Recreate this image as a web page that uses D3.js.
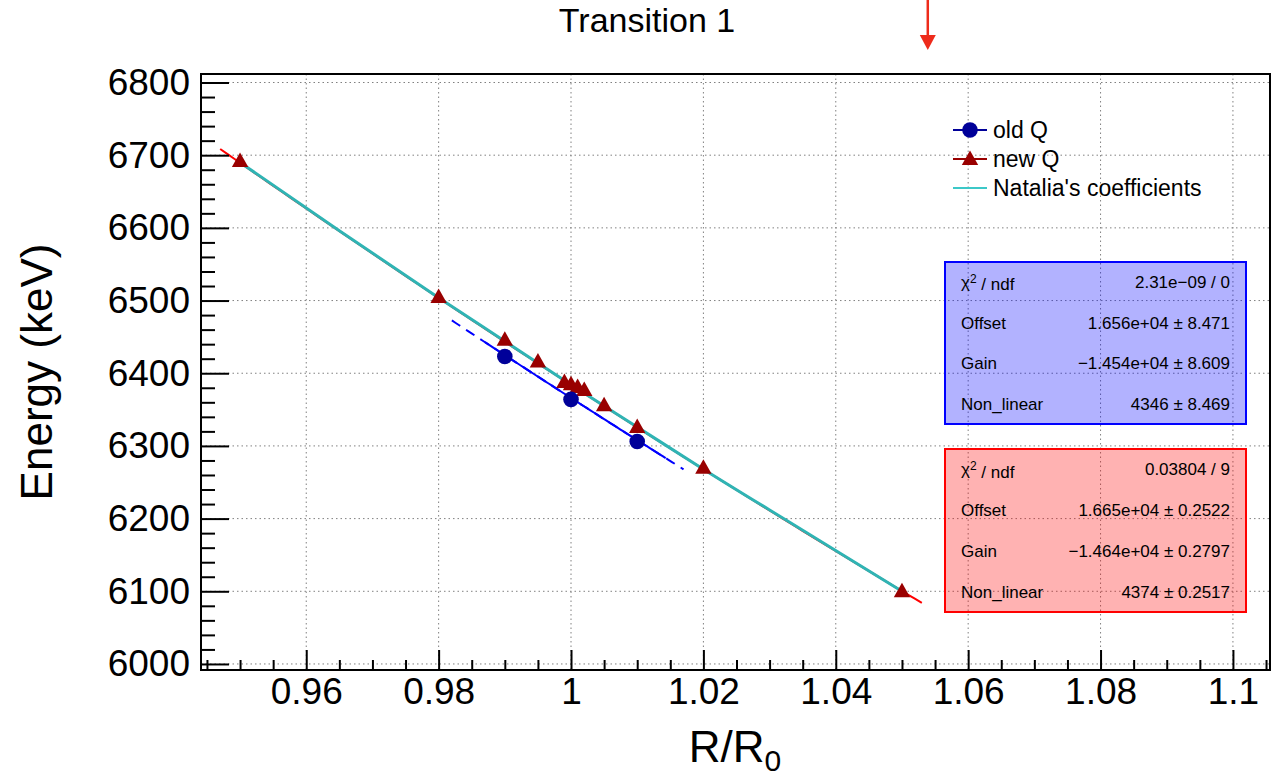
<!DOCTYPE html>
<html>
<head>
<meta charset="utf-8">
<script src="https://cdn.jsdelivr.net/npm/d3@7"></script>
<style>
  html, body { margin: 0; padding: 0; background: #fff; }
  svg { display: block; font-family: "Liberation Sans", Arial, Helvetica, sans-serif; }
</style>
</head>
<body>
<svg id="chart" width="1272" height="778"></svg>
<script>
// ---------- data ----------
const title = "Transition 1";
const xTickValues = [0.96, 0.98, 1.00, 1.02, 1.04, 1.06, 1.08, 1.10];
const xTickLabels = ["0.96", "0.98", "1", "1.02", "1.04", "1.06", "1.08", "1.1"];
const yTickValues = [6000, 6100, 6200, 6300, 6400, 6500, 6600, 6700, 6800];
const yTickLabels = ["6000", "6100", "6200", "6300", "6400", "6500", "6600", "6700", "6800"];

// old Q (circles)
const oldX = [0.99, 1.00, 1.01];
const oldE = [6423, 6364, 6306];
// new Q (triangles)
const newX = [0.95, 0.98, 0.99, 0.995, 0.999, 1.000, 1.001, 1.002, 1.005, 1.01, 1.02, 1.05];
const newE = [6692, 6505, 6446, 6416, 6388, 6385, 6381, 6377, 6356, 6326, 6270, 6100];
// Natalia's coefficients curve
const natX = [0.95, 0.965, 0.98, 0.99, 1.00, 1.01, 1.02, 1.035, 1.05];
const natE = [6690, 6596, 6504, 6444, 6384, 6326, 6268, 6184, 6100];

// fit parameters (offset, gain, non_linear) as shown in stats boxes
const fitOld = [16560, -14540, 4346];
const fitNew = [16650, -14640, 4374];
const fitOldRange = [0.982, 1.017];
const fitOldSolidRange = [0.987, 1.0143];
const fitNewRange = [0.947, 1.053];

const statsOldLabels = ["χ2 / ndf", "Offset", "Gain", "Non_linear"];
const statsOldValues = ["2.31e\u221209 / 0", "1.656e+04 \u00b1 8.471", "\u22121.454e+04 \u00b1 8.609", "4346 \u00b1 8.469"];
const statsNewLabels = ["χ2 / ndf", "Offset", "Gain", "Non_linear"];
const statsNewValues = ["0.03804 / 9", "1.665e+04 \u00b1 0.2522", "\u22121.464e+04 \u00b1 0.2797", "4374 \u00b1 0.2517"];

const legendLabels = ["old Q", "new Q", "Natalia's coefficients"];
const arrowX = 1.0539;

// ---------- layout ----------
const svg = d3.select("#chart");
const L = 201, R = 1270, T = 74, B = 670;
const x = d3.scaleLinear().domain([0.9441, 1.1056]).range([L, R]);
const y = d3.scaleLinear().domain([5991.7, 6811.7]).range([B, T]);
const FONT = "'Liberation Sans', Arial, Helvetica, sans-serif";

// grid
const grid = svg.append("g").attr("stroke", "#808080").attr("stroke-width", 1).attr("stroke-dasharray", "1.5,3");
grid.selectAll("line.v").data(xTickValues).join("line")
  .attr("x1", d => x(d)).attr("x2", d => x(d)).attr("y1", T).attr("y2", B);
grid.selectAll("line.h").data(yTickValues).join("line")
  .attr("x1", L).attr("x2", R).attr("y1", d => y(d)).attr("y2", d => y(d));

// curves
const poly = (c, v) => c[0] + c[1] * v + c[2] * v * v;
const line = d3.line().x(d => x(d[0])).y(d => y(d[1]));
const sample = (c, r, n) => d3.range(n + 1).map(i => { const v = r[0] + (r[1] - r[0]) * i / n; return [v, poly(c, v)]; });

// red fit of new Q
svg.append("path").datum(sample(fitNew, fitNewRange, 100))
  .attr("d", line).attr("fill", "none").attr("stroke", "#ff0000").attr("stroke-width", 2);
// blue fit of old Q: dashed extended + solid
svg.append("path").datum(sample(fitOld, fitOldRange, 60))
  .attr("d", line).attr("fill", "none").attr("stroke", "#0000ff").attr("stroke-width", 2)
  .attr("stroke-dasharray", "10,7");
svg.append("path").datum(sample(fitOld, fitOldSolidRange, 60))
  .attr("d", line).attr("fill", "none").attr("stroke", "#0000ff").attr("stroke-width", 2);
// Natalia's coefficients
svg.append("path").datum(natX.map((v, i) => [v, natE[i]]))
  .attr("d", d3.line().x(d => x(d[0])).y(d => y(d[1])).curve(d3.curveMonotoneX))
  .attr("fill", "none").attr("stroke", "#2fb4b4").attr("stroke-width", 3);

// markers
const tri = "M0,-8.5L8.2,6L-8.2,6Z";
svg.append("g").selectAll("path").data(newX.map((v, i) => [v, newE[i]])).join("path")
  .attr("d", tri).attr("transform", d => `translate(${x(d[0])},${y(d[1])})`).attr("fill", "#990000");
svg.append("g").selectAll("circle").data(oldX.map((v, i) => [v, oldE[i]])).join("circle")
  .attr("cx", d => x(d[0])).attr("cy", d => y(d[1])).attr("r", 7.8).attr("fill", "#000099");

// axes
svg.append("g").attr("transform", `translate(${L},0)`)
  .call(d3.axisLeft(y).tickValues(yTickValues).tickSizeInner(-28).tickSizeOuter(0).tickPadding(11)
    .tickFormat((d, i) => yTickLabels[i]));
const yMinor = d3.range(6000, 6811, 20).filter(v => !yTickValues.includes(v));
svg.append("g").attr("transform", `translate(${L},0)`)
  .call(d3.axisLeft(y).tickValues(yMinor).tickSizeInner(-14).tickSizeOuter(0).tickFormat(""));
svg.append("g").attr("transform", `translate(0,${B})`)
  .call(d3.axisBottom(x).tickValues(xTickValues).tickSizeInner(-20).tickSizeOuter(0).tickPadding(8)
    .tickFormat((d, i) => xTickLabels[i]));
const xMinor = d3.range(0, 33).map(i => +(0.945 + i * 0.005).toFixed(3)).filter(v => v < 1.1056 && !xTickValues.some(t => Math.abs(t - v) < 1e-6));
svg.append("g").attr("transform", `translate(0,${B})`)
  .call(d3.axisBottom(x).tickValues(xMinor).tickSizeInner(-10).tickSizeOuter(0).tickFormat(""));
svg.selectAll(".domain").remove();
svg.selectAll(".tick line").attr("stroke", "#000").attr("stroke-width", 2);
svg.selectAll(".tick text").attr("fill", "#000").style("font-family", FONT).style("font-size", "37px");

// frame
svg.append("rect").attr("x", L).attr("y", T).attr("width", R - L).attr("height", B - T)
  .attr("fill", "none").attr("stroke", "#000").attr("stroke-width", 2);

// stats boxes
function statsBox(top, h, stroke, labels, values) {
  const g = svg.append("g");
  g.append("rect").attr("x", 945).attr("y", top).attr("width", 301).attr("height", h)
    .attr("fill", stroke).attr("fill-opacity", 0.3).attr("stroke", stroke).attr("stroke-width", 2);
  const rh = h / 4;
  labels.forEach((lab, i) => {
    const cy = top + rh * (i + 0.5);
    const t = g.append("text").attr("x", 961).attr("y", cy).attr("dy", "0.35em")
      .style("font-size", "17px").style("font-family", FONT).attr("fill", "#000");
    if (lab.startsWith("χ2")) {
      t.append("tspan").text("χ");
      t.append("tspan").text("2").attr("dy", "-0.45em").style("font-size", "12px");
      t.append("tspan").text(" / ndf").attr("dy", "0.45em");
    } else t.text(lab);
    g.append("text").attr("x", 1230).attr("y", cy).attr("dy", "0.35em").attr("text-anchor", "end")
      .style("font-size", "17px").style("font-family", FONT).attr("fill", "#000").text(values[i]);
  });
}
statsBox(262, 162, "#0000ff", statsOldLabels, statsOldValues);
statsBox(449, 163, "#ff0000", statsNewLabels, statsNewValues);

// legend
const legRows = [130, 159, 188];
const lg = svg.append("g");
lg.append("line").attr("x1", 953).attr("x2", 987).attr("y1", legRows[0]).attr("y2", legRows[0]).attr("stroke", "#000099").attr("stroke-width", 2);
lg.append("circle").attr("cx", 970).attr("cy", legRows[0]).attr("r", 7.8).attr("fill", "#000099");
lg.append("line").attr("x1", 953).attr("x2", 987).attr("y1", legRows[1]).attr("y2", legRows[1]).attr("stroke", "#990000").attr("stroke-width", 2);
lg.append("path").attr("d", tri).attr("transform", `translate(970,${legRows[1]})`).attr("fill", "#990000");
lg.append("line").attr("x1", 953).attr("x2", 987).attr("y1", legRows[2]).attr("y2", legRows[2]).attr("stroke", "#3cc8c8").attr("stroke-width", 2);
legendLabels.forEach((t, i) => {
  lg.append("text").attr("x", 993).attr("y", legRows[i]).attr("dy", "0.35em")
    .style("font-size", "23px").style("font-family", FONT).attr("fill", "#000").text(t);
});

// title
svg.append("text").attr("x", 647).attr("y", 32).attr("text-anchor", "middle")
  .style("font-size", "34px").style("font-family", FONT).attr("fill", "#000").text(title);

// axis titles
svg.append("text").attr("transform", "translate(52,372) rotate(-90)").attr("text-anchor", "middle")
  .style("font-size", "44px").style("font-family", FONT).attr("fill", "#000").text("Energy (keV)");
const xt = svg.append("text").attr("x", 735).attr("y", 762).attr("text-anchor", "middle")
  .style("font-size", "44px").style("font-family", FONT).attr("fill", "#000");
xt.append("tspan").text("R/R");
xt.append("tspan").text("0").attr("dy", "0.3em").style("font-size", "30px");

// red arrow
const ax = x(arrowX);
svg.append("line").attr("x1", ax).attr("x2", ax).attr("y1", 0).attr("y2", 37).attr("stroke", "#ee2b1b").attr("stroke-width", 2.5);
svg.append("path").attr("d", `M${ax - 8},35L${ax + 8},35L${ax},50Z`).attr("fill", "#ee2b1b");
</script>
</body>
</html>
